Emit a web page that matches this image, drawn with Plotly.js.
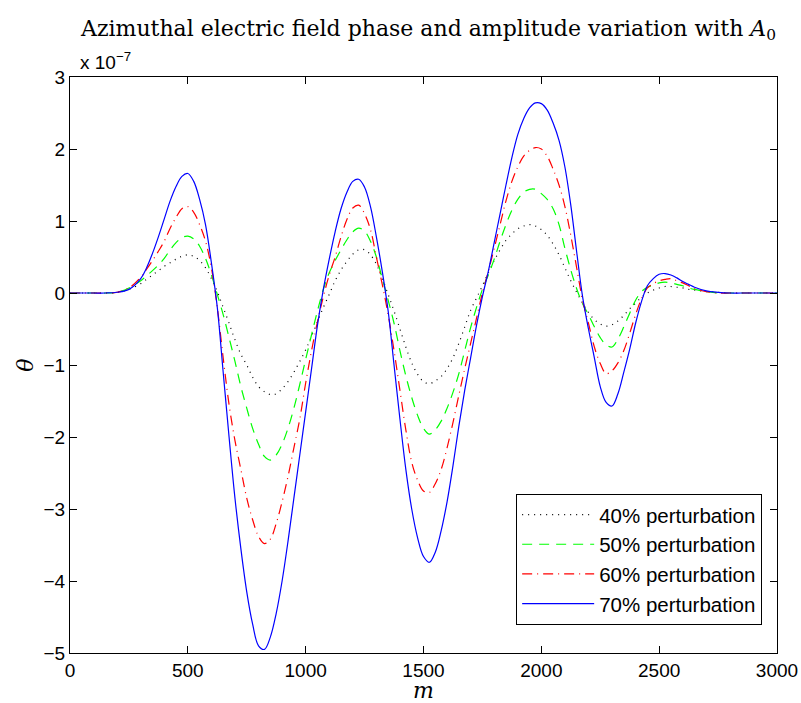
<!DOCTYPE html>
<html>
<head>
<meta charset="utf-8">
<script src="https://cdn.plot.ly/plotly-3.0.1.min.js"></script>
<style>html,body{margin:0;padding:0;background:#fff;}#chart{width:801px;height:703px;}</style>
</head>
<body>
<div id="chart"></div>
<script>
// Position m
const mValues = [
  0, 50, 100, 150, 200, 250,
  300, 325, 350, 375,   400, 425, 450, 475,   500, 525, 550, 575,   600, 625, 650, 675,
  700, 725, 750, 775,   800, 825, 850, 875,   900, 925, 950, 975,   1000, 1025, 1050, 1075,
  1100, 1125, 1150, 1175,   1200, 1225, 1250, 1275,   1300, 1325, 1350, 1375,   1400, 1425, 1450, 1475,
  1500, 1525, 1550, 1575,   1600, 1625, 1650, 1675,   1700, 1725, 1750, 1775,   1800, 1825, 1850, 1875,
  1900, 1925, 1950, 1975,   2000, 2025, 2050, 2075,   2100, 2125, 2150, 2175,   2200, 2225, 2250, 2275,
  2300, 2325, 2350, 2375,   2400, 2425, 2450, 2475,   2500, 2525, 2550, 2575,   2600, 2625, 2650,
  2700, 2750, 2800, 2850, 2900, 2950, 3000
];
// theta, in units of 1e-7
const theta40 = [
  0, 0, 0, 0, 0.01, 0.05,
  0.13, 0.19, 0.25, 0.31,   0.37, 0.42, 0.47, 0.51,   0.53, 0.51, 0.45, 0.35,   0.2, 0.02, -0.2, -0.42,
  -0.65, -0.85, -1.0, -1.17,   -1.3, -1.37, -1.41, -1.4,   -1.33, -1.23, -1.1, -0.95,   -0.79, -0.6, -0.4, -0.2,
  -0.02, 0.17, 0.32, 0.44,   0.54, 0.6, 0.6, 0.53,   0.4, 0.2, -0.02, -0.25,   -0.5, -0.75, -0.97, -1.13,
  -1.23, -1.26, -1.22, -1.16,   -1.05, -0.9, -0.7, -0.47,   -0.24, -0.07, 0.1, 0.28,   0.45, 0.6, 0.73, 0.82,
  0.89, 0.93, 0.95, 0.93,   0.88, 0.8, 0.68, 0.53,   0.35, 0.17, 0.01, -0.14,   -0.27, -0.37, -0.43, -0.46,
  -0.44, -0.39, -0.31, -0.22,   -0.14, -0.06, 0.0, 0.04,   0.07, 0.09, 0.09, 0.08,   0.07, 0.05, 0.04,
  0.02, 0.01, 0, 0, 0, 0, 0
];
const theta50 = [
  0, 0, 0, 0, 0.01, 0.07,
  0.17, 0.24, 0.31, 0.39,   0.48, 0.6, 0.7, 0.77,   0.79, 0.75, 0.65, 0.48,   0.25, -0.02, -0.3, -0.62,
  -0.95, -1.3, -1.6, -1.88,   -2.1, -2.27, -2.32, -2.25,   -2.1, -1.88, -1.6, -1.27,   -0.92, -0.58, -0.25, 0.05,
  0.28, 0.45, 0.6, 0.74,   0.85, 0.9, 0.86, 0.72,   0.5, 0.2, -0.1, -0.42,   -0.8, -1.15, -1.45, -1.7,
  -1.88, -1.96, -1.9, -1.78,   -1.6, -1.38, -1.12, -0.8,   -0.48, -0.2, 0.05, 0.25,   0.47, 0.72, 0.95, 1.15,
  1.3, 1.4, 1.44, 1.44,   1.38, 1.3, 1.17, 0.95,   0.62, 0.32, 0.06, -0.15,   -0.3, -0.47, -0.62, -0.72,
  -0.75, -0.64, -0.47, -0.28,   -0.1, 0.02, 0.08, 0.11,   0.14, 0.15, 0.14, 0.12,   0.1, 0.07, 0.05,
  0.02, 0, 0, 0, 0, 0, 0
];
const theta60 = [
  0, 0, 0, 0, 0.01, 0.07,
  0.22, 0.33, 0.45, 0.58,   0.72, 0.9, 1.05, 1.17,   1.2, 1.12, 0.95, 0.72,   0.35, -0.2, -0.9, -1.55,
  -2.05, -2.45, -2.85, -3.15,   -3.38, -3.48, -3.42, -3.2,   -2.9, -2.55, -2.15, -1.75,   -1.25, -0.8, -0.4, -0.05,
  0.25, 0.5, 0.78, 1.02,   1.18, 1.22, 1.1, 0.88,   0.5, 0.12, -0.3, -0.8,   -1.35, -1.9, -2.35, -2.6,
  -2.75, -2.77, -2.65, -2.45,   -2.15, -1.8, -1.42, -1.05,   -0.7, -0.35, 0.0, 0.3,   0.62, 0.95, 1.28, 1.55,
  1.75, 1.9, 1.98, 2.02,   2.0, 1.9, 1.72, 1.5,   1.2, 0.8, 0.35, -0.1,   -0.42, -0.75, -0.98, -1.12,
  -1.08, -0.97, -0.8, -0.56,   -0.3, -0.08, 0.07, 0.13,   0.17, 0.19, 0.2, 0.17,   0.14, 0.1, 0.06,
  0.02, 0, 0, 0, 0, 0, 0
];
const theta70 = [
  0, 0, 0, 0, 0.01, 0.05,
  0.2, 0.35, 0.55, 0.78,   1.03, 1.28, 1.48, 1.62,   1.66, 1.55, 1.3, 0.95,   0.42, -0.2, -1.1, -2.0,
  -2.85, -3.55, -4.15, -4.6,   -4.9, -4.95, -4.78, -4.45,   -4.0, -3.45, -2.85, -2.25,   -1.65, -1.05, -0.45, 0.05,
  0.47, 0.85, 1.17, 1.4,   1.55, 1.58, 1.47, 1.2,   0.78, 0.3, -0.25, -1.0,   -1.75, -2.45, -3.0, -3.4,
  -3.66, -3.74, -3.6, -3.3,   -2.9, -2.4, -1.85, -1.35,   -0.9, -0.45, -0.05, 0.3,   0.7, 1.1, 1.5, 1.88,
  2.2, 2.42, 2.57, 2.64,   2.63, 2.54, 2.36, 2.12,   1.75, 1.22, 0.57, -0.05,   -0.5, -0.9, -1.3, -1.52,
  -1.57, -1.4, -1.1, -0.78,   -0.42, -0.12, 0.1, 0.2,   0.26, 0.27, 0.25, 0.21,   0.16, 0.12, 0.08,
  0.03, 0.01, 0, 0, 0, 0, 0
];
const seriesNames = ['40% perturbation', '50% perturbation', '60% perturbation', '70% perturbation'];
const seriesData = [theta40, theta50, theta60, theta70];
const seriesColors = ['#000000', '#00ff00', '#ff0000', '#0000ff'];
const seriesDash = ['1px,5px', '10px,7px', '10px,5px,1px,5px', 'solid'];
const xTicks = [0, 500, 1000, 1500, 2000, 2500, 3000];
const yTicks = [-5, -4, -3, -2, -1, 0, 1, 2, 3];

const sans = 'Liberation Sans, Arial, Helvetica, sans-serif';
const serif = 'DejaVu Serif, Liberation Serif, serif';

const traces = seriesNames.map((name, i) => ({
  x: mValues,
  y: seriesData[i],
  name: name,
  type: 'scatter',
  mode: 'lines',
  line: {color: seriesColors[i], width: 1.2, dash: seriesDash[i], shape: 'spline', smoothing: 1}
}));

const axisCommon = {
  showgrid: false,
  zeroline: false,
  showline: true,
  linecolor: '#000',
  linewidth: 1,
  mirror: 'ticks',
  ticks: 'inside',
  ticklen: 7,
  tickwidth: 1,
  tickcolor: '#000',
  tickfont: {family: sans, size: 19, color: '#000'}
};

const layout = {
  width: 801,
  height: 703,
  paper_bgcolor: '#fff',
  plot_bgcolor: '#fff',
  margin: {l: 70, r: 24, t: 77, b: 50},
  showlegend: true,
  title: {
    text: 'Azimuthal electric field phase and amplitude variation with <i>A</i><sub>0</sub>',
    font: {family: serif, size: 22, color: '#000'},
    x: 0.535, xanchor: 'center', y: 0.96, yanchor: 'middle'
  },
  xaxis: Object.assign({}, axisCommon, {
    range: [0, 3000],
    tickvals: xTicks,
    ticktext: xTicks.map(String),
    title: {text: '<i>m</i>', font: {family: serif, size: 22, color: '#000'}, standoff: 7}
  }),
  yaxis: Object.assign({}, axisCommon, {
    range: [-5, 3],
    tickvals: yTicks,
    ticktext: yTicks.map(v => v < 0 ? '\u2212' + Math.abs(v) : String(v)),
    title: {text: '<i>θ</i>', font: {family: serif, size: 22, color: '#000'}, standoff: 3}
  }),
  legend: {
    x: 0.979, xanchor: 'right',
    y: 0.049, yanchor: 'bottom',
    bgcolor: '#fff',
    bordercolor: '#000',
    borderwidth: 1,
    itemwidth: 72,
    font: {family: sans, size: 20.5, color: '#000'},
    tracegroupgap: 0
  },
  annotations: [{
    xref: 'paper', yref: 'paper',
    x: 0.012, y: 1.0, xanchor: 'left', yanchor: 'bottom', yshift: 2,
    text: 'x 10<sup>\u22127</sup>',
    showarrow: false,
    font: {family: sans, size: 19, color: '#000'}
  }]
};

Plotly.newPlot('chart', traces, layout, {displayModeBar: false, staticPlot: true});
</script>
</body>
</html>
